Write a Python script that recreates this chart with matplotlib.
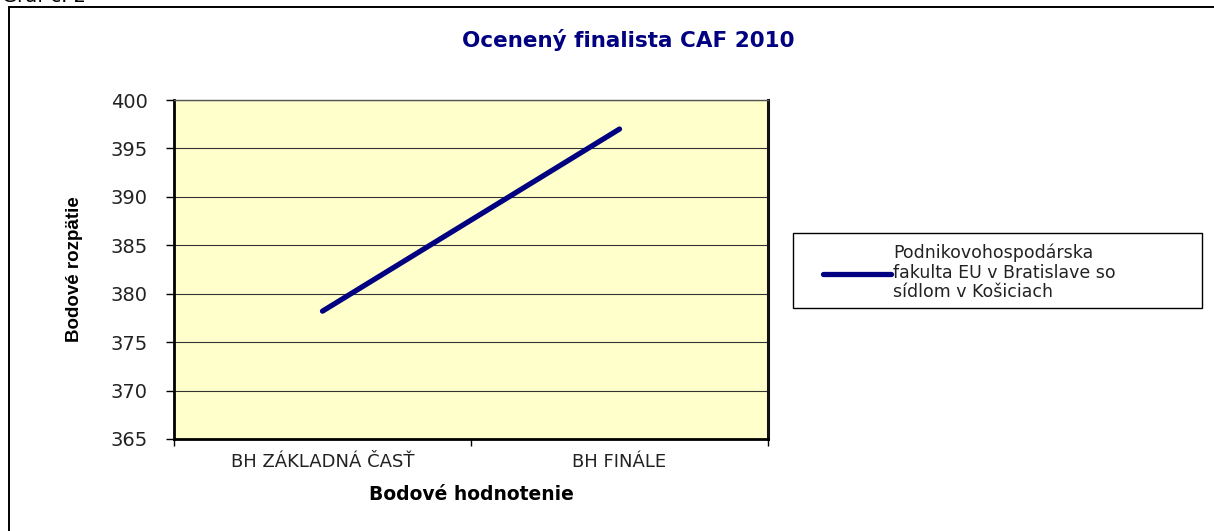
# Imports

import numpy as np
import matplotlib
matplotlib.use('Agg')
import matplotlib.pyplot as plt
from matplotlib.patches import Rectangle

# Data

categories = ['BH ZÁKLADNÁ ČASŤ', 'BH FINÁLE']
values = [378.2, 397.0]
series_name = 'Podnikovohospodárska\nfakulta EU v Bratislave so\nsídlom v Košiciach'
y_ticks = [365, 370, 375, 380, 385, 390, 395, 400]

# Style

navy = '#000080'
plot_bg = '#FFFFCC'
text_gray = '#222222'
plt.rcParams['font.family'] = ['DejaVu Sans']

fig = plt.figure(figsize=(12.14, 5.31), dpi=100)
W, H = 1214, 531

# outer chart border, runs off right and bottom edge
fig.patches.append(Rectangle((8.5 / W, -0.1), 1.2, (H - 7) / H + 0.1,
                             transform=fig.transFigure, fill=False,
                             edgecolor='black', linewidth=1.4))
fig.text(0.002, 1.006, 'Graf č. 2', fontsize=14, va='center', ha='left', color='black')

ax = fig.add_axes([174 / W, (H - 439) / H, (768 - 174) / W, (439 - 100) / H])
ax.set_facecolor(plot_bg)

x = np.arange(len(categories))
line, = ax.plot(x, values, color=navy, linewidth=3.8, solid_capstyle='round', zorder=3)

ax.set_xlim(-0.5, len(categories) - 0.5)
ax.set_ylim(y_ticks[0], y_ticks[-1])
ax.set_yticks(y_ticks)
ax.set_xticks(x)
ax.set_xticklabels(categories)
ax.set_xticks(np.arange(len(categories) + 1) - 0.5, minor=True)
ax.tick_params(axis='x', which='major', length=0, pad=10, labelsize=13, labelcolor=text_gray)
ax.tick_params(axis='x', which='minor', length=5, width=1, direction='out', color='black')
ax.tick_params(axis='y', length=6, width=1, direction='out', pad=13, labelsize=14, labelcolor=text_gray)
ax.grid(axis='y', color='#333333', linewidth=0.8)
ax.set_axisbelow(True)

for side in ['left', 'bottom']:
    ax.spines[side].set_linewidth(2)
    ax.spines[side].set_color('black')
ax.spines['right'].set_linewidth(2.2)
ax.spines['right'].set_color('#111111')
ax.spines['top'].set_linewidth(1)
ax.spines['top'].set_color('#555555')

ax.set_title('Ocenený finalista CAF 2010', fontsize=15.5, fontweight='bold', color=navy,
             x=(628 - 174) / (768 - 174), pad=38)
ax.set_xlabel('Bodové hodnotenie', fontsize=13.5, fontweight='bold', labelpad=10)
ax.set_ylabel('Bodové rozpätie', fontsize=13.5, fontweight='bold',
              family=['Liberation Sans', 'DejaVu Sans'], labelpad=20)

# legend: frame drawn separately so the handle sits inset like the original
fig.patches.append(Rectangle((793 / W, (H - 308) / H), 409 / W, 75 / H,
                             transform=fig.transFigure, fill=True, facecolor='white',
                             edgecolor='black', linewidth=1))
leg = fig.legend([line], [series_name], loc='upper left',
                 bbox_to_anchor=(823 / W, (H - 244) / H),
                 frameon=False, fontsize=12.5, handlelength=3.9,
                 handletextpad=0.15, borderpad=0, labelspacing=0.2, borderaxespad=0)
for t in leg.get_texts():
    t.set_color(text_gray)
    t.set_linespacing(1.1)

fig.savefig('out.png', dpi=100, facecolor='white')
